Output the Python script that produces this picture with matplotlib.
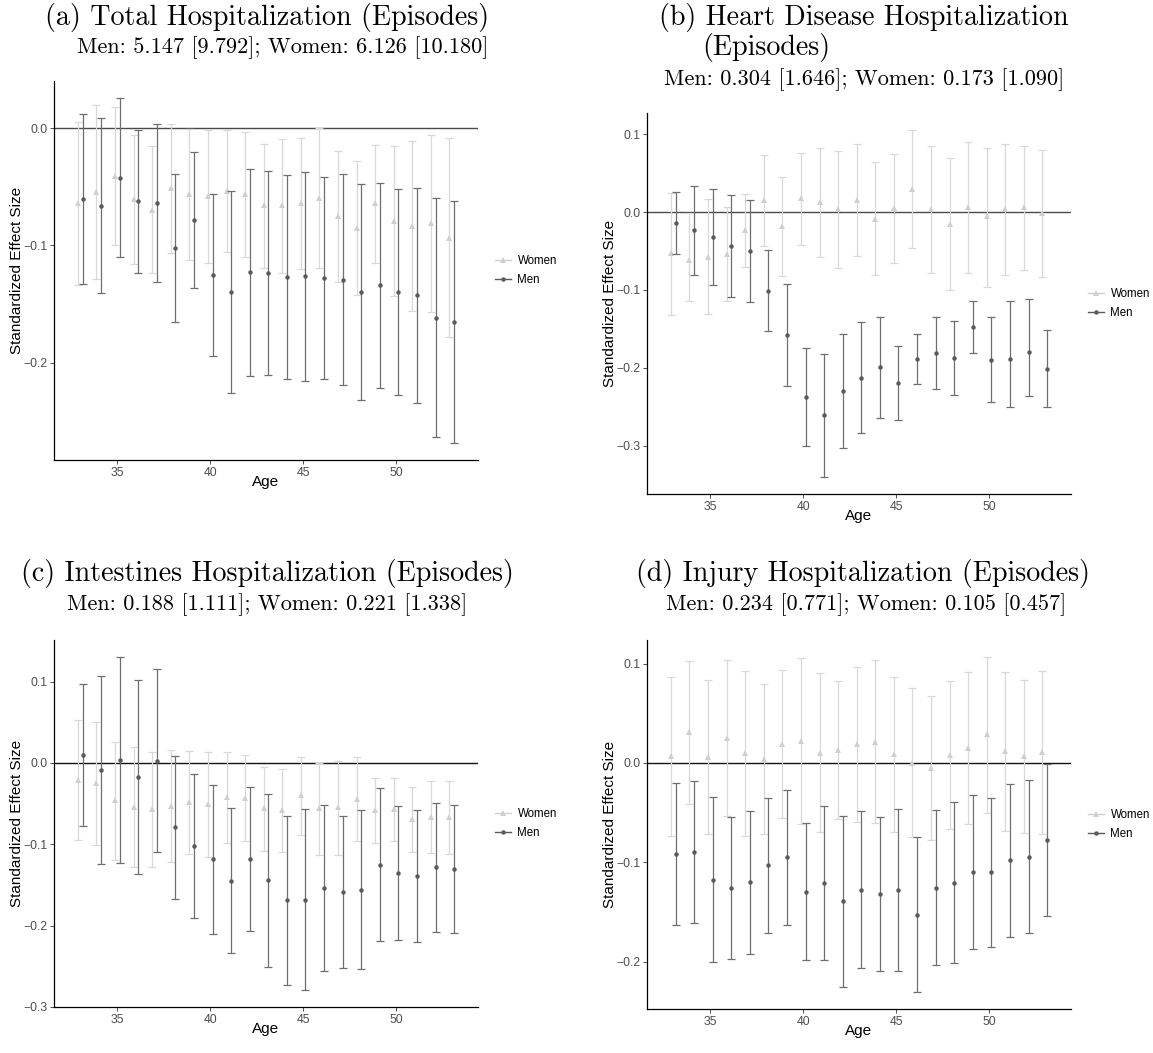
import numpy as np
import matplotlib
matplotlib.use("Agg")
import matplotlib.pyplot as plt
from matplotlib.lines import Line2D
from matplotlib.ticker import FuncFormatter, MultipleLocator

# ---------------------------------------------------------------- data
ages = list(range(33, 54))

# (a) Total hospitalization
a_women = [-0.0640, -0.0546, -0.0404, -0.0606, -0.0694, -0.0506, -0.0563, -0.0578, -0.0532, -0.0558, -0.0654,
           -0.0654, -0.0640, -0.0595, -0.0745, -0.0853, -0.0640, -0.0788, -0.0831, -0.0811, -0.0933]
a_women_lo = [-0.1340, -0.1290, -0.0999, -0.1158, -0.1238, -0.1067, -0.1124, -0.1147, -0.1058, -0.1095, -0.1189,
              -0.1232, -0.1203, -0.1195, -0.1314, -0.1422, -0.1147, -0.1428, -0.1562, -0.1570, -0.1778]
a_women_hi = [0.0057, 0.0196, 0.0179, -0.0060, -0.0154, 0.0040, -0.0009, -0.0017, -0.0017, -0.0034, -0.0131,
              -0.0094, -0.0080, 0.0006, -0.0190, -0.0279, -0.0139, -0.0151, -0.0111, -0.0057, -0.0085]
a_men = [-0.0603, -0.0660, -0.0421, -0.0620, -0.0634, -0.1024, -0.0782, -0.1252, -0.1400, -0.1229, -0.1232,
         -0.1266, -0.1263, -0.1275, -0.1292, -0.1400, -0.1340, -0.1394, -0.1425, -0.1616, -0.1650]
a_men_lo = [-0.1326, -0.1408, -0.1101, -0.1232, -0.1309, -0.1650, -0.1366, -0.1943, -0.2262, -0.2114, -0.2102,
            -0.2142, -0.2156, -0.2139, -0.2191, -0.2316, -0.2213, -0.2273, -0.2347, -0.2632, -0.2683]
a_men_hi = [0.0125, 0.0088, 0.0256, -0.0011, 0.0037, -0.0393, -0.0205, -0.0563, -0.0532, -0.0350, -0.0367,
            -0.0395, -0.0373, -0.0413, -0.0393, -0.0472, -0.0467, -0.0518, -0.0506, -0.0597, -0.0617]

# (b) Heart disease hospitalization
b_women = [-0.0520, -0.0620, -0.0573, -0.0534, -0.0236, 0.0153, -0.0184, 0.0175, 0.0123, 0.0039, 0.0153,
           -0.0083, 0.0053, 0.0302, 0.0039, -0.0149, 0.0061, -0.0053, 0.0035, 0.0061, -0.0013]
b_women_lo = [-0.1317, -0.1138, -0.1313, -0.1142, -0.0709, -0.0438, -0.0827, -0.0420, -0.0578, -0.0718, -0.0569,
              -0.0805, -0.0652, -0.0460, -0.0783, -0.1002, -0.0788, -0.0958, -0.0810, -0.0740, -0.0840]
b_women_hi = [0.0245, -0.0013, 0.0166, 0.0066, 0.0228, 0.0735, 0.0446, 0.0761, 0.0818, 0.0788, 0.0875,
              0.0639, 0.0748, 0.1050, 0.0853, 0.0700, 0.0902, 0.0827, 0.0871, 0.0849, 0.0796]
b_men = [-0.0140, -0.0236, -0.0315, -0.0433, -0.0503, -0.1011, -0.1575, -0.2376, -0.2608, -0.2298, -0.2127,
         -0.1996, -0.2193, -0.1891, -0.1807, -0.1869, -0.1475, -0.1895, -0.1882, -0.1799, -0.2013]
b_men_lo = [-0.0538, -0.0814, -0.0937, -0.1094, -0.1155, -0.1532, -0.2232, -0.3007, -0.3400, -0.3033, -0.2845,
            -0.2652, -0.2670, -0.2214, -0.2276, -0.2346, -0.1812, -0.2442, -0.2503, -0.2359, -0.2508]
b_men_hi = [0.0263, 0.0341, 0.0302, 0.0223, 0.0149, -0.0486, -0.0928, -0.1750, -0.1825, -0.1562, -0.1414,
            -0.1348, -0.1720, -0.1571, -0.1348, -0.1396, -0.1138, -0.1352, -0.1138, -0.1120, -0.1514]

# (c) Intestines hospitalization
c_women = [-0.0211, -0.0244, -0.0455, -0.0540, -0.0568, -0.0528, -0.0479, -0.0508, -0.0418, -0.0426, -0.0556,
           -0.0577, -0.0398, -0.0560, -0.0544, -0.0443, -0.0577, -0.0564, -0.0686, -0.0666, -0.0666]
c_women_lo = [-0.0954, -0.1011, -0.1190, -0.1279, -0.1283, -0.1222, -0.1121, -0.1161, -0.0983, -0.0958, -0.1084,
              -0.1096, -0.0885, -0.1137, -0.1129, -0.0958, -0.0991, -0.0966, -0.1096, -0.1108, -0.1125]
c_women_hi = [0.0532, 0.0508, 0.0256, 0.0199, 0.0130, 0.0154, 0.0142, 0.0130, 0.0134, 0.0102, -0.0045,
              -0.0073, 0.0077, 0.0000, 0.0028, 0.0073, -0.0183, -0.0183, -0.0292, -0.0223, -0.0223]
c_men = [0.0102, -0.0089, 0.0032, -0.0171, 0.0028, -0.0792, -0.1019, -0.1186, -0.1449, -0.1177, -0.1445,
         -0.1689, -0.1685, -0.1535, -0.1583, -0.1559, -0.1250, -0.1356, -0.1389, -0.1283, -0.1303]
c_men_lo = [-0.0780, -0.1246, -0.1234, -0.1368, -0.1100, -0.1677, -0.1904, -0.2099, -0.2343, -0.2063, -0.2509,
            -0.2728, -0.2797, -0.2554, -0.2521, -0.2533, -0.2188, -0.2180, -0.2201, -0.2079, -0.2095]
c_men_hi = [0.0970, 0.1068, 0.1307, 0.1023, 0.1157, 0.0085, -0.0138, -0.0276, -0.0556, -0.0300, -0.0378,
            -0.0650, -0.0564, -0.0516, -0.0650, -0.0577, -0.0313, -0.0532, -0.0577, -0.0487, -0.0516]

# (d) Injury hospitalization
d_women = [0.0073, 0.0307, 0.0060, 0.0250, 0.0097, 0.0043, 0.0190, 0.0217, 0.0103, 0.0133, 0.0190,
           0.0214, 0.0090, 0.0000, -0.0050, 0.0083, 0.0153, 0.0290, 0.0117, 0.0073, 0.0107]
d_women_lo = [-0.0731, -0.0410, -0.0717, -0.0531, -0.0731, -0.0711, -0.0554, -0.0617, -0.0697, -0.0564, -0.0597,
              -0.0604, -0.0694, -0.0744, -0.0771, -0.0664, -0.0617, -0.0500, -0.0681, -0.0704, -0.0711]
d_women_hi = [0.0864, 0.1021, 0.0834, 0.1031, 0.0921, 0.0794, 0.0934, 0.1051, 0.0901, 0.0824, 0.0968,
              0.1031, 0.0864, 0.0751, 0.0671, 0.0824, 0.0918, 0.1068, 0.0914, 0.0837, 0.0928]
d_men = [-0.0914, -0.0894, -0.1178, -0.1258, -0.1201, -0.1031, -0.0944, -0.1295, -0.1205, -0.1391, -0.1278,
         -0.1318, -0.1278, -0.1528, -0.1255, -0.1208, -0.1094, -0.1101, -0.0981, -0.0941, -0.0777]
d_men_lo = [-0.1628, -0.1608, -0.2005, -0.1969, -0.1919, -0.1708, -0.1625, -0.1982, -0.1979, -0.2249, -0.2065,
            -0.2095, -0.2089, -0.2306, -0.2032, -0.2015, -0.1869, -0.1849, -0.1755, -0.1708, -0.1542]
d_men_hi = [-0.0197, -0.0180, -0.0347, -0.0547, -0.0480, -0.0357, -0.0267, -0.0607, -0.0430, -0.0534, -0.0487,
            -0.0541, -0.0464, -0.0744, -0.0474, -0.0397, -0.0324, -0.0357, -0.0207, -0.0174, -0.0013]

titles = [
    ["(a) Total Hospitalization (Episodes)"],
    ["(b) Heart Disease Hospitalization", "(Episodes)"],
    ["(c) Intestines Hospitalization (Episodes)"],
    ["(d) Injury Hospitalization (Episodes)"],
]
subtitles = [
    "Men: 5.147 [9.792]; Women: 6.126 [10.180]",
    "Men: 0.304 [1.646]; Women: 0.173 [1.090]",
    "Men: 0.188 [1.111]; Women: 0.221 [1.338]",
    "Men: 0.234 [0.771]; Women: 0.105 [0.457]",
]
series_labels = ["Women", "Men"]
x_label = "Age"
y_label = "Standardized Effect Size"

# ---------------------------------------------------------------- style
W, H = 1153, 1053
women_color = "#cfcfcf"
women_bar = "#d8d8d8"
men_color = "#5a5a5a"
men_bar = "#6e6e6e"
dodge = 0.125           # half of the dodge width between the two groups
cap_half = 0.25         # errorbar half width in x units

fig = plt.figure(figsize=(W / 100, H / 100), dpi=100)
fig.patch.set_facecolor("white")


def px_rect(left, top, right, bottom):
    return [left / W, 1 - bottom / H, (right - left) / W, (bottom - top) / H]


panels = [
    dict(rect=(54, 81, 478, 460), zero="#4a4a4a",
         women=(a_women, a_women_lo, a_women_hi), men=(a_men, a_men_lo, a_men_hi),
         title_y=[17], title_x=[267], sub_y=48, sub_x=283),
    dict(rect=(647, 113, 1071, 494), zero="#4a4a4a",
         women=(b_women, b_women_lo, b_women_hi), men=(b_men, b_men_lo, b_men_hi),
         title_y=[17, 48], title_x=[864, 766], sub_y=80, sub_x=864),
    dict(rect=(54, 640, 478, 1007), zero="#111111",
         women=(c_women, c_women_lo, c_women_hi), men=(c_men, c_men_lo, c_men_hi),
         title_y=[574], title_x=[267], sub_y=605, sub_x=267),
    dict(rect=(647, 640, 1071, 1009), zero="#111111",
         women=(d_women, d_women_lo, d_women_hi), men=(d_men, d_men_lo, d_men_hi),
         title_y=[574], title_x=[863], sub_y=605, sub_x=866),
]


def minus_fmt(v, pos):
    return f"{v:.1f}".replace("-", "\u2212")


x = np.array(ages, dtype=float)
for i, p in enumerate(panels):
    l, t, r, b = p["rect"]
    ax = fig.add_axes(px_rect(l, t, r, b))
    ax.set_facecolor("white")

    ax.axhline(0, color=p["zero"], lw=1.0, zorder=1)

    w_est, w_lo, w_hi = (np.array(v) for v in p["women"])
    m_est, m_lo, m_hi = (np.array(v) for v in p["men"])

    # women: light grey triangles with their intervals
    ax.errorbar(x - dodge, w_est, yerr=[w_est - w_lo, w_hi - w_est], fmt="none",
                ecolor=women_bar, elinewidth=0.9, capthick=0.9, capsize=3.2, zorder=2)
    ax.plot(x - dodge, w_est, linestyle="none", marker="^", markersize=3.8,
            color=women_color, markeredgewidth=0, zorder=2.5)
    # men: dark grey dots with their intervals
    ax.errorbar(x + dodge, m_est, yerr=[m_est - m_lo, m_hi - m_est], fmt="none",
                ecolor=men_bar, elinewidth=0.9, capthick=0.9, capsize=3.2, zorder=3)
    ax.plot(x + dodge, m_est, linestyle="none", marker="o", markersize=3.2,
            color=men_color, markeredgewidth=0, zorder=3.5)

    # axis ranges padded by 5% of the data span
    xmin, xmax = x.min() - dodge - cap_half, x.max() + dodge + cap_half
    xpad = 0.05 * (xmax - xmin)
    ax.set_xlim(xmin - xpad, xmax + xpad)
    ymin = min(w_lo.min(), m_lo.min(), 0.0)
    ymax = max(w_hi.max(), m_hi.max(), 0.0)
    ypad = 0.05 * (ymax - ymin)
    ax.set_ylim(ymin - ypad, ymax + ypad)

    ax.xaxis.set_major_locator(MultipleLocator(5))
    ax.yaxis.set_major_locator(MultipleLocator(0.1))
    ax.yaxis.set_major_formatter(FuncFormatter(minus_fmt))

    for side in ("top", "right"):
        ax.spines[side].set_visible(False)
    for side in ("left", "bottom"):
        ax.spines[side].set_color("black")
        ax.spines[side].set_linewidth(0.9)
    ax.tick_params(axis="both", length=2.8, width=0.6, color="#333333",
                   labelcolor="#4d4d4d", labelsize=8.8, pad=2.0,
                   labelfontfamily="Liberation Sans")

    ax.set_xlabel(x_label, fontsize=11, family="Liberation Sans", color="black")
    ax.set_ylabel(y_label, fontsize=11, family="Liberation Sans", color="black")
    ax.xaxis.set_label_coords(0.5, -15.0 / (b - t))
    ax.yaxis.set_label_coords(-30.0 / (r - l), 0.5)

    handles = [
        Line2D([], [], color=women_color, lw=1.0, marker="^", markersize=3.8, markeredgewidth=0),
        Line2D([], [], color=men_color, lw=1.0, marker="o", markersize=3.2, markeredgewidth=0),
    ]
    ax.legend(handles, series_labels, loc="center left",
              bbox_to_anchor=(1 + 17.0 / (r - l), 0.5), frameon=False,
              prop={"family": "Liberation Sans", "size": 8.3},
              handlelength=1.4, handletextpad=0.55, labelspacing=0.6,
              borderpad=0, borderaxespad=0)

    for line, tx, ty in zip(titles[i], p["title_x"], p["title_y"]):
        fig.text(tx / W, 1 - ty / H, line, ha="center", va="center",
                 family="cmr10", fontsize=20.2, color="black")
    fig.text(p["sub_x"] / W, 1 - p["sub_y"] / H, subtitles[i], ha="center", va="center",
             family="cmr10", fontsize=16, color="black")

fig.savefig("out.png", dpi=100, facecolor="white")
